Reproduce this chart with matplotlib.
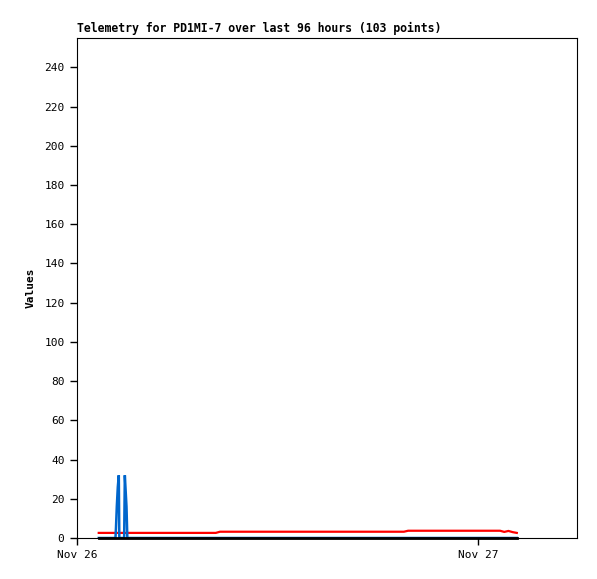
# Telemetry plot for PD1MI-7, redrawn with matplotlib

import numpy as np
import pandas as pd
import matplotlib
matplotlib.use('Agg')
import matplotlib.pyplot as plt
import matplotlib.dates as mdates

plt.rcParams['font.family'] = ['DejaVu Sans Mono']

start = pd.Timestamp('2024-11-26 00:00')

# sample times in hours after Nov 26 00:00 (15 min spacing)
hours = [1.3 + 0.25 * k for k in range(101)]

# red series values
red_vals = ([2.6] * 29 + [3.2] * 45 + [3.7] * 23 +
            [3.1, 3.6, 3.0, 2.6])

# black series sits on zero the whole time
black_vals = [0.0] * 101

# blue series only spikes once, early on
blue_hours = [1.30, 2.30, 2.33, 2.38, 2.44, 2.50, 2.53, 2.82, 2.86, 2.96, 3.01, 26.30]
blue_vals = [0, 0, 5, 16, 26, 32, 0, 0, 32, 16, 0, 0]

t = start + pd.to_timedelta(hours, unit='h')
t_blue = start + pd.to_timedelta(blue_hours, unit='h')

fig = plt.figure(figsize=(5.97, 5.79), dpi=100)
ax = fig.add_axes([77 / 597, 1 - 538 / 579, 500 / 597, 500 / 579])

ax.plot(t, red_vals, color='#ff0000', linewidth=1.6)
ax.plot(t_blue, blue_vals, color='#0066cc', linewidth=1.8,
        solid_joinstyle='miter')
ax.plot(t, black_vals, color='black', linewidth=2.0, clip_on=False, zorder=4)

# Formatting plot
ax.set_ylim(0, 255)
ax.set_yticks(range(0, 241, 20))
ax.set_xlim(start, start + pd.Timedelta(hours=29.9))
ax.set_xticks([start, start + pd.Timedelta(days=1)])
ax.xaxis.set_major_formatter(mdates.DateFormatter('%b %d'))

ax.tick_params(direction='out', length=5, width=1, labelsize=8, pad=4)
for s in ax.spines.values():
    s.set_linewidth(0.8)

ax.set_ylabel('Values', fontsize=8, fontweight='bold', labelpad=6)
ax.set_title('Telemetry for PD1MI-7 over last 96 hours (103 points)',
             fontsize=8.3, fontweight='bold', loc='left', pad=4)

fig.savefig('out.png', dpi=100)
